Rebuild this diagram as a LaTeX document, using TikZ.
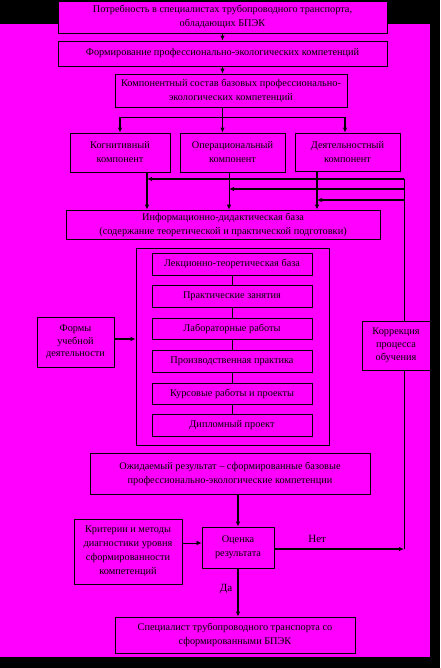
\documentclass[tikz,border=0pt]{standalone}
\usepackage{fontspec}
\setmainfont{Liberation Serif}
\usetikzlibrary{arrows.meta}
\definecolor{mag}{RGB}{255,0,255}
\begin{document}
\begin{tikzpicture}[x=1pt,y=-1pt,
  box/.style={draw=black, fill=mag, line width=0.8pt, inner sep=1pt, align=center,
    font=\fontsize{10.3}{14}\selectfont, text=black},
  arr/.style={-{Latex[length=5pt,width=4.5pt]}, line width=1.6pt},
  tarr/.style={-{Latex[length=5pt,width=4.5pt]}, line width=0.7pt},
  ln/.style={line width=0.7pt},
  lab/.style={font=\fontsize{11}{13}\selectfont, text=black, inner sep=0pt}]
\fill[black] (0,0) rectangle (440,668);
\fill[mag] (0,24) rectangle (430,657);
\useasboundingbox (0,0) rectangle (440,668);

\node[box, minimum width=329pt, minimum height=32pt] (b1) at (222.5,17) {Потребность в специалистах трубопроводного транспорта,\\обладающих БПЭК};
\node[box, minimum width=329pt, minimum height=25pt] (b2) at (222.5,53.5) {Формирование профессионально-экологических компетенций};
\node[box, minimum width=232pt, minimum height=33pt] (b3) at (231,90.5) {Компонентный состав базовых профессионально-\\экологических компетенций};
\node[box, minimum width=100pt, minimum height=39pt] (cog) at (120,152.5) {Когнитивный\\компонент};
\node[box, minimum width=105pt, minimum height=39pt] (op) at (232.5,152.5) {Операциональный\\компонент};
\node[box, minimum width=105pt, minimum height=38pt] (act) at (347.5,152) {Деятельностный\\компонент};
\node[box, minimum width=314pt, minimum height=29pt] (info) at (223,224.5) {Информационно-дидактическая база\\(содержание теоретической и практической подготовки)};
\node[box, minimum width=193pt, minimum height=197pt] (cont) at (232.5,346.5) {};
\node[box, minimum width=160pt, minimum height=22pt] (l1) at (232,264) {Лекционно-теоретическая база};
\node[box, minimum width=160pt, minimum height=22pt] (l2) at (232,296) {Практические занятия};
\node[box, minimum width=160pt, minimum height=21pt] (l3) at (232,328.5) {Лабораторные работы};
\node[box, minimum width=160pt, minimum height=22pt] (l4) at (232,361) {Производственная практика};
\node[box, minimum width=160pt, minimum height=21pt] (l5) at (232,393.5) {Курсовые работы и проекты};
\node[box, minimum width=160pt, minimum height=22pt] (l6) at (232,425) {Дипломный проект};
\node[box, minimum width=77pt, minimum height=50pt, font=\fontsize{10.3}{12.5}\selectfont] (forms) at (75.5,342) {Формы\\учебной\\деятельности};
\node[box, minimum width=68pt, minimum height=49pt, font=\fontsize{10.3}{13}\selectfont] (corr) at (396,345.5) {Коррекция\\процесса\\обучения};
\node[box, minimum width=280pt, minimum height=41pt] (exp) at (230,473.5) {Ожидаемый результат -- сформированные базовые\\профессионально-экологические компетенции};
\node[box, minimum width=72pt, minimum height=41pt] (eval) at (238,547.5) {Оценка\\результата};
\node[box, minimum width=108pt, minimum height=65pt] (crit) at (128,551.5) {Критерии и методы\\диагностики уровня\\сформированности\\компетенций};
\node[box, minimum width=240pt, minimum height=36pt] (spec) at (235,635) {Специалист трубопроводного транспорта со\\сформированными БПЭК};

\coordinate (sL) at (120,117);
\coordinate (sR) at (345,117);
\coordinate (xc) at (147,0);
\coordinate (xo) at (229,0);
\coordinate (xa) at (317,0);
\coordinate (f1) at (404,179);
\coordinate (f2) at (404,189);
\coordinate (f3) at (404,200);
\coordinate (nb) at (404,549);
\coordinate (yf) at (0,339);
\coordinate (ye) at (0,543);

\draw[arr] (b1.south) -- (b2.north);
\draw[arr] (b2.south) -- (b2.south |- b3.north);
\draw[arr] (b2.south |- b3.south) -- (b2.south |- op.north);
\draw[ln] (sL) -- (sR);
\draw[arr] (sL) -- (sL |- cog.north);
\draw[arr] (sR) -- (sR |- act.north);

\draw[arr] (cog.south -| xc) -- (info.north -| xc);
\draw[tarr] (op.south -| xo) -- (info.north -| xo);
\draw[arr] (act.south -| xa) -- (info.north -| xa);

\draw[ln] (f1) -- (corr.north -| f1);
\draw[ln] (corr.south -| f1) -- (nb);
\draw[arr] (f1) -- (f1 -| xc);
\draw[arr] (f2) -- (f2 -| xo);
\draw[arr] (f3) -- (f3 -| xa);

\draw[ln] (l1.south) -- (l2.north);
\draw[ln] (l2.south) -- (l3.north);
\draw[ln] (l3.south) -- (l4.north);
\draw[ln] (l4.south) -- (l5.north);
\draw[ln] (l5.south) -- (l6.north);

\draw[arr] (forms.east |- yf) -- (cont.west |- yf);
\draw[arr] (eval.north |- exp.south) -- (eval.north);
\draw[tarr] (crit.east |- ye) -- (eval.west |- ye);
\draw[arr] (eval.east |- nb) -- (nb) node[lab, pos=0.33, above=6pt] (net) {Нет};
\draw[arr] (eval.south) -- (eval.south |- spec.north) node[lab, pos=0.42, left=5pt] (da) {Да};
\end{tikzpicture}
\end{document}
